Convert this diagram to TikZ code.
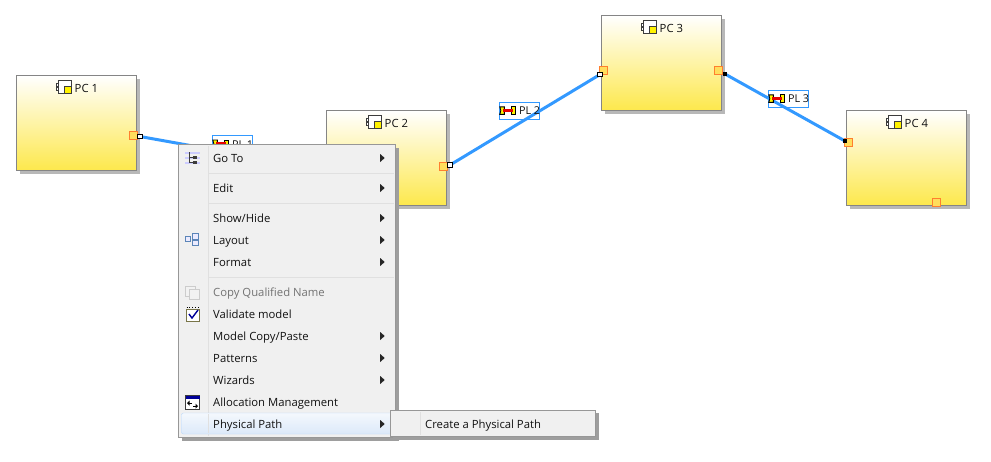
\documentclass[tikz,border=0pt]{standalone}
\usepackage{xcolor}
\usepackage{fontspec}
\setmainfont{Open Sans}
\usetikzlibrary{
    positioning,
    shadows,
    shapes.geometric
}
\definecolor{linkblue}{HTML}{3399FF}
\definecolor{boxyellow}{HTML}{FDE84C}
\definecolor{portfill}{HTML}{FFDE5C}
\definecolor{portdraw}{HTML}{FF7F2E}
\definecolor{menugray}{HTML}{F0F0F0}
\definecolor{menuedge}{HTML}{979797}
\definecolor{menusepline}{HTML}{E0E0E0}
\definecolor{menutext}{HTML}{111111}
\definecolor{icongray}{HTML}{3C3C3C}
\definecolor{iconblue}{HTML}{5B85B8}
\definecolor{hilitedraw}{HTML}{B8D6FB}
\definecolor{hilitetop}{HTML}{F4F8FD}
\definecolor{hilitebottom}{HTML}{DCE9F9}

\begin{document}
\begin{tikzpicture}[
    x=1pt,
    y=-1pt,
    font=\fontsize{11.3}{13}\selectfont,
    pcbox/.style={
        draw=black!48,
        line width=1pt,
        top color=white,
        bottom color=boxyellow,
        minimum width=120pt,
        minimum height=95pt,
        inner sep=0pt,
        drop shadow={shadow xshift=3pt,shadow yshift=-3pt,fill=black!28,opacity=1}
    },
    pctitle/.style={
        anchor=west,
        inner sep=0pt,
        text height=10pt,
        text depth=2pt,
        text=menutext
    },
    port/.style={
        draw=portdraw,
        fill=portfill,
        line width=1.2pt,
        minimum size=8pt,
        inner sep=0pt
    },
    handle/.style={
        draw=black,
        fill=white,
        line width=0.9pt,
        minimum size=4.5pt,
        inner sep=0pt
    },
    handleblack/.style={
        handle,
        fill=black,
        minimum size=3.6pt
    },
    plink/.style={
        draw=linkblue,
        line width=3pt
    },
    plbox/.style={
        draw=linkblue,
        line width=0.9pt,
        minimum width=40.5pt,
        minimum height=17pt
    },
    pllabel/.style={
        anchor=west,
        inner sep=0pt,
        text height=10pt,
        text depth=2pt,
        font=\fontsize{10.8}{13}\selectfont,
        text=menutext
    },
    menubox/.style={
        draw=menuedge,
        fill=menugray,
        line width=1pt,
        inner sep=0pt,
        drop shadow={shadow xshift=3pt,shadow yshift=-3pt,fill=black!38,opacity=1}
    },
    menuitem/.style={
        anchor=west,
        inner sep=0pt,
        text height=10pt,
        text depth=2pt,
        text=menutext
    },
    menudim/.style={
        menuitem,
        text=black!55
    },
    menusep/.style={
        draw=menusepline,
        line width=1pt
    },
    subarrow/.style={
        isosceles triangle,
        isosceles triangle stretches,
        fill=black!85,
        minimum width=8pt,
        minimum height=4.5pt,
        inner sep=0pt
    },
    hilite/.style={
        draw=hilitedraw,
        rounded corners=2pt,
        top color=hilitetop,
        bottom color=hilitebottom,
        inner sep=0pt,
        minimum width=214pt,
        minimum height=21pt
    },
    pcicon/.pic={
        \draw[icongray,fill=white,line width=0.8pt] (-1.5,3) rectangle (1.5,5.5);
        \draw[icongray,fill=white,line width=0.8pt] (-1.5,7) rectangle (1.5,9.5);
        \draw[icongray,fill=white,line width=0.9pt] (0,0) rectangle (13,12.5);
        \draw[icongray,fill=yellow,line width=0.9pt] (6,5.5) rectangle (13,12.5);
    },
    plicon/.pic={
        \draw[black,fill=yellow,line width=0.9pt] (0,0) -- (4.5,0) -- (4.5,7.5) -- (0,7.5) -- (1,3.75) -- cycle;
        \draw[black,fill=yellow,line width=0.9pt] (11.5,0) rectangle (15.5,7.5);
        \fill[red!90!black] (3.5,2.3) rectangle (13,5.2);
    }
]

\useasboundingbox (0,0) rectangle (991,461);

% Components
\node[pcbox] (pc1) at (76.5,123) {};
\node[pcbox] (pc2) at (386.5,158) {};
\node[pcbox] (pc3) at (661.5,63) {};
\node[pcbox] (pc4) at (906.5,158) {};

% Titles
\node[pctitle] (pc1title) at ([xshift=58.5pt,yshift=-13pt]pc1.north west) {PC 1};
\node[pctitle] (pc2title) at ([xshift=58.5pt,yshift=-13pt]pc2.north west) {PC 2};
\node[pctitle] (pc3title) at ([xshift=58.5pt,yshift=-13pt]pc3.north west) {PC 3};
\node[pctitle] (pc4title) at ([xshift=58.5pt,yshift=-13pt]pc4.north west) {PC 4};
\pic at ([xshift=42pt,yshift=-5.5pt]pc1.north west) {pcicon};
\pic at ([xshift=42pt,yshift=-5.5pt]pc2.north west) {pcicon};
\pic at ([xshift=42pt,yshift=-5.5pt]pc3.north west) {pcicon};
\pic at ([xshift=42pt,yshift=-5.5pt]pc4.north west) {pcicon};

% Ports
\node[port] (port1) at (133.5,135.5) {};
\node[port] (port2) at (443.5,166.5) {};
\node[port] (port3) at (603.5,70.5) {};
\node[port] (port4) at (718.5,70.5) {};
\node[port] (port5) at (848.5,142.5) {};
\node[port] (port6) at (936.5,202.5) {};

% Links
\coordinate (end1) at (140,136.5);
\coordinate (end2) at (327,170);
\coordinate (end3) at (450,165);
\coordinate (end4) at (600,74.5);
\coordinate (end5) at (725,74);
\coordinate (end6) at (845,141);
\draw[plink] (end1) -- (end2);
\draw[plink] (end3) -- (end4);
\draw[plink] (end5) -- (end6);
\node[handle] (hand1) at (end1) {};
\node[handle] (hand3) at (end3) {};
\node[handle] (hand4) at (end4) {};
\node[handleblack] (hand5) at (end5) {};
\node[handleblack] (hand6) at (end6) {};

% Link labels
\node[plbox] (pl1) at (232.5,144) {};
\node[plbox] (pl2) at (519.5,110.8) {};
\node[plbox] (pl3) at (788.5,98.8) {};
\node[pllabel] (pl1text) at ([xshift=20pt]pl1.west) {PL 1};
\node[pllabel] (pl2text) at ([xshift=20pt]pl2.west) {PL 2};
\node[pllabel] (pl3text) at ([xshift=20pt]pl3.west) {PL 3};
\pic at ([xshift=1pt,yshift=4pt]pl1.west) {plicon};
\pic at ([xshift=1pt,yshift=4pt]pl2.west) {plicon};
\pic at ([xshift=1pt,yshift=4pt]pl3.west) {plicon};

% Context menu
\node[menubox,minimum width=217pt,minimum height=293pt] (menu) at (287,291) {};
\draw[menusep] (208.5,146) -- (208.5,436);
\draw[menusep] (209,173) -- (394,173);
\draw[menusep] (209,203) -- (394,203);
\draw[menusep] (209,277) -- (394,277);

% Selected row
\node[hilite] (physrow) at (288.5,423.5) {};
\draw[menusep] (208.5,414) -- (208.5,433);

% Menu entries
\node[menuitem] (goto) at (213,158) {Go To};
\node[menuitem] (edit) at (213,188) {Edit};
\node[menuitem] (showhide) at (213,218) {Show/Hide};
\node[menuitem] (layout) at (213,240) {Layout};
\node[menuitem] (format) at (213,262) {Format};
\node[menudim] (copyname) at (213,292) {Copy Qualified Name};
\node[menuitem] (validate) at (213,314) {Validate model};
\node[menuitem] (modelcopy) at (213,336) {Model Copy/Paste};
\node[menuitem] (patterns) at (213,358) {Patterns};
\node[menuitem] (wizards) at (213,380) {Wizards};
\node[menuitem] (allocation) at (213,402) {Allocation Management};
\node[menuitem] (physpath) at (213,424) {Physical Path};

% Submenu arrows
\node[subarrow] (arrgoto) at (382,158) {};
\node[subarrow] (arredit) at (382,188) {};
\node[subarrow] (arrshow) at (382,218) {};
\node[subarrow] (arrlayout) at (382,240) {};
\node[subarrow] (arrformat) at (382,262) {};
\node[subarrow] (arrmodel) at (382,336) {};
\node[subarrow] (arrpatterns) at (382,358) {};
\node[subarrow] (arrwizards) at (382,380) {};
\node[subarrow] (arrphys) at (382,424) {};

% Menu icons
\fill[blue!20] (185,152) rectangle (200,154);
\fill[blue!20] (185,157) rectangle (200,159);
\fill[blue!20] (185,162) rectangle (200,164);
\draw[icongray,line width=0.9pt] (189,152) -- (189,163) (189,157) -- (193,157) (189,162) -- (193,162);
\fill[icongray] (193,155.5) rectangle (197,158.5);
\fill[icongray] (193,160.5) rectangle (197,163.5);
\draw[iconblue,fill=blue!8,line width=0.8pt] (185.5,236) rectangle (190.5,241.5);
\draw[iconblue,fill=blue!8,line width=0.8pt] (192.5,233) rectangle (198,239);
\draw[iconblue,fill=blue!8,line width=0.8pt] (192.5,240) rectangle (198,245.5);
\draw[black!20,fill=black!5,line width=0.9pt] (185.5,286) rectangle (195,296);
\draw[black!20,fill=black!5,line width=0.9pt] (189,289) rectangle (199.5,299);
\draw[black!60!yellow,fill=white,line width=0.9pt] (186.5,309) rectangle (199,321);
\draw[black,dotted,line width=0.9pt] (186.5,307.5) -- (199,307.5);
\draw[blue!60!black,line width=1.4pt] (189,314) -- (192,318) -- (198,310);
\draw[icongray,fill=white,line width=0.9pt] (185.5,395.5) rectangle (199.5,409);
\fill[blue!60!black] (185.5,395.5) rectangle (199.5,398.5);
\draw[black,line width=0.9pt] (188,403) -- (192,403) (193,406) -- (197,406);
\fill[black] (187,403) -- (189.5,400.5) -- (189.5,405.5) -- cycle;
\fill[black] (198,406) -- (195.5,403.5) -- (195.5,408.5) -- cycle;

% Submenu
\node[menubox,minimum width=205.5pt,minimum height=26.5pt] (submenu) at (493,423.5) {};
\draw[menusep] (420,412) -- (420,435);
\node[menuitem] (createpath) at (425,424) {Create a Physical Path};

\end{tikzpicture}
\end{document}
